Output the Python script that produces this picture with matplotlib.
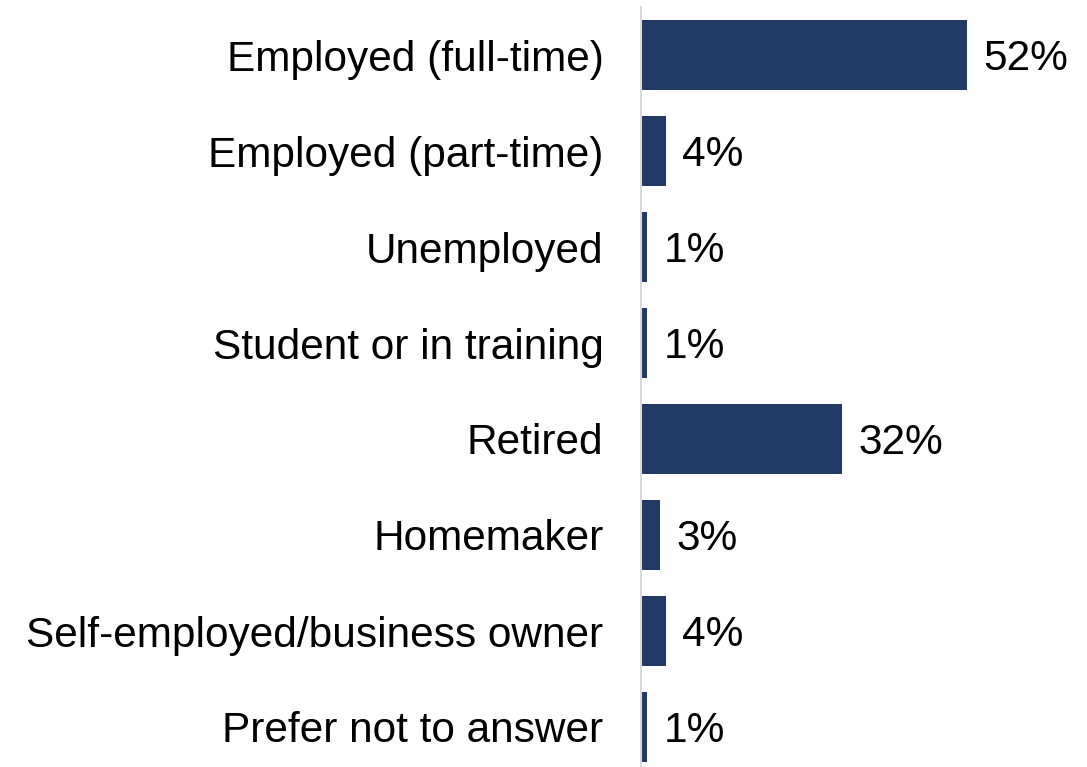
import matplotlib.pyplot as plt

plt.rcParams['font.family'] = ['Liberation Sans', 'DejaVu Sans']

categories = ['Employed (full-time)', 'Employed (part-time)', 'Unemployed',
              'Student or in training', 'Retired', 'Homemaker',
              'Self-employed/business owner', 'Prefer not to answer']
values = [52, 4, 1, 1, 32, 3, 4, 1]

W, H = 1087, 767
fig = plt.figure(figsize=(W / 100, H / 100), dpi=100)
# axes placed in pixel terms: spine at x=641, rows 96 px apart
ax = fig.add_axes([641 / W, 0, 374 / W, 760 / H])

y = range(len(categories))
ax.barh(y, values, height=0.73, color='#223a66')
ax.set_ylim(760 / 96 - 0.5, -0.5)
ax.set_xlim(0, 59.6)

for yi, v in zip(y, values):
    ax.text(v + 2.6, yi, f'{v}%', va='center_baseline', ha='left', fontsize=30.5)

ax.set_yticks(list(y))
ax.set_yticklabels(categories, fontsize=30.5)
ax.tick_params(axis='y', length=0, pad=27)
ax.set_xticks([])
for side in ['top', 'right', 'bottom']:
    ax.spines[side].set_visible(False)
ax.spines['left'].set_color('#d9d9d9')
ax.spines['left'].set_linewidth(1.5)

fig.savefig('out.png', dpi=100)
